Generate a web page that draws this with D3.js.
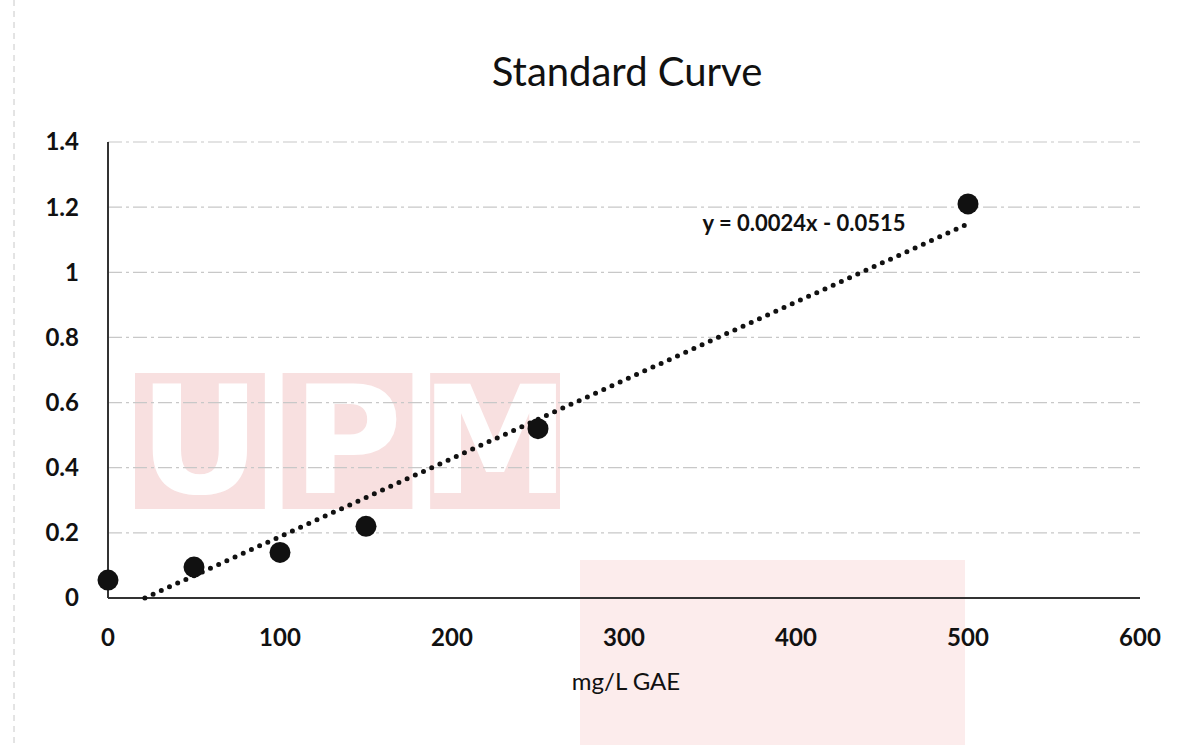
<!DOCTYPE html>
<html>
<head>
<meta charset="utf-8">
<script src="https://cdn.jsdelivr.net/npm/d3@7"></script>
<style>
  body { margin: 0; background: #fff; }
  svg { display: block; font-family: Lato, "Open Sans", sans-serif; }
</style>
</head>
<body>
<svg id="chart" width="1178" height="745"></svg>
<script>
// data
const concentrations = [0, 50, 100, 150, 250, 500];
const absorbance = [0.055, 0.095, 0.14, 0.22, 0.52, 1.21];
const xTicks = [0, 100, 200, 300, 400, 500, 600];
const yTicks = [0, 0.2, 0.4, 0.6, 0.8, 1, 1.2, 1.4];
const slope = 0.0024;
const intercept = -0.0515;
const equationLabel = 'y = 0.0024x - 0.0515';
const watermarkLetters = ['U', 'P', 'M'];

const svg = d3.select('#chart');

const x = d3.scaleLinear().domain([0, 600]).range([108, 1140]);
const y = d3.scaleLinear().domain([0, 1.4]).range([598, 142]);

// faint scan border on the left
svg.append('line')
  .attr('x1', 14).attr('x2', 14).attr('y1', 0).attr('y2', 745)
  .attr('stroke', '#c8c8c8').attr('stroke-dasharray', '6 5');

// faint watermark behind the plot
const wm = svg.append('g').attr('class', 'watermark');
wm.append('rect')
  .attr('x', 580).attr('y', 560).attr('width', 385).attr('height', 185)
  .attr('fill', '#fcecec');
const wmX = d3.scaleBand().domain(watermarkLetters).range([135, 560]).paddingInner(0.12);
wm.selectAll('rect.letter')
  .data(watermarkLetters)
  .enter().append('rect')
  .attr('class', 'letter')
  .attr('x', d => wmX(d))
  .attr('y', 373)
  .attr('width', wmX.bandwidth())
  .attr('height', 136)
  .attr('fill', '#f8e0e0');
wm.selectAll('text')
  .data(watermarkLetters)
  .enter().append('text')
  .attr('x', d => wmX(d) + wmX.bandwidth() / 2)
  .attr('y', 493)
  .attr('text-anchor', 'middle')
  .attr('font-size', '150px')
  .attr('font-weight', 900)
  .attr('font-family', '"DejaVu Sans", sans-serif')
  .attr('fill', '#ffffff')
  .text(d => d);

// gridlines
svg.append('g')
  .selectAll('line')
  .data(yTicks.filter(d => d > 0))
  .enter().append('line')
  .attr('x1', x(0)).attr('x2', x(600))
  .attr('y1', d => y(d)).attr('y2', d => y(d))
  .attr('stroke', '#c8c8c8')
  .attr('stroke-width', 1.2)
  .attr('stroke-dasharray', '14 4 3 4');

// axes lines
svg.append('line')
  .attr('x1', x(0)).attr('x2', x(0))
  .attr('y1', y(1.4)).attr('y2', y(0))
  .attr('stroke', '#333').attr('stroke-width', 2);
svg.append('line')
  .attr('x1', x(0)).attr('x2', x(600))
  .attr('y1', y(0)).attr('y2', y(0))
  .attr('stroke', '#333').attr('stroke-width', 2);

// y tick labels
svg.append('g')
  .selectAll('text')
  .data(yTicks)
  .enter().append('text')
  .attr('x', 79)
  .attr('y', d => y(d))
  .attr('dy', '0.35em')
  .attr('text-anchor', 'end')
  .attr('font-size', '24px')
  .attr('font-weight', 'bold')
  .attr('fill', '#111')
  .text(d => d3.format('~g')(d));

// x tick labels
svg.append('g')
  .selectAll('text')
  .data(xTicks)
  .enter().append('text')
  .attr('x', d => x(d))
  .attr('y', 646)
  .attr('text-anchor', 'middle')
  .attr('font-size', '24px')
  .attr('font-weight', 'bold')
  .attr('fill', '#111')
  .text(d => d);

// titles
svg.append('text')
  .attr('x', 627).attr('y', 86)
  .attr('text-anchor', 'middle')
  .attr('font-size', '40px')
  .attr('fill', '#111')
  .text('Standard Curve');

svg.append('text')
  .attr('x', 626).attr('y', 690)
  .attr('text-anchor', 'middle')
  .attr('font-size', '24px')
  .attr('fill', '#111')
  .text('mg/L GAE');

// linear trendline (dotted), from y = 0 up to the last point
const x0 = -intercept / slope;
svg.append('line')
  .attr('x1', x(x0)).attr('y1', y(0))
  .attr('x2', x(500)).attr('y2', y(slope * 500 + intercept))
  .attr('stroke', '#111')
  .attr('stroke-width', 5)
  .attr('stroke-linecap', 'round')
  .attr('stroke-dasharray', '0 9');

// data points
svg.append('g')
  .selectAll('circle')
  .data(concentrations.map((c, i) => ({c, a: absorbance[i]})))
  .enter().append('circle')
  .attr('cx', d => x(d.c))
  .attr('cy', d => y(d.a))
  .attr('r', 10.5)
  .attr('fill', '#111');

// equation label
svg.append('text')
  .attr('x', 804).attr('y', 231)
  .attr('text-anchor', 'middle')
  .attr('font-size', '22px')
  .attr('font-weight', 'bold')
  .attr('fill', '#111')
  .text(equationLabel);
</script>
</body>
</html>
